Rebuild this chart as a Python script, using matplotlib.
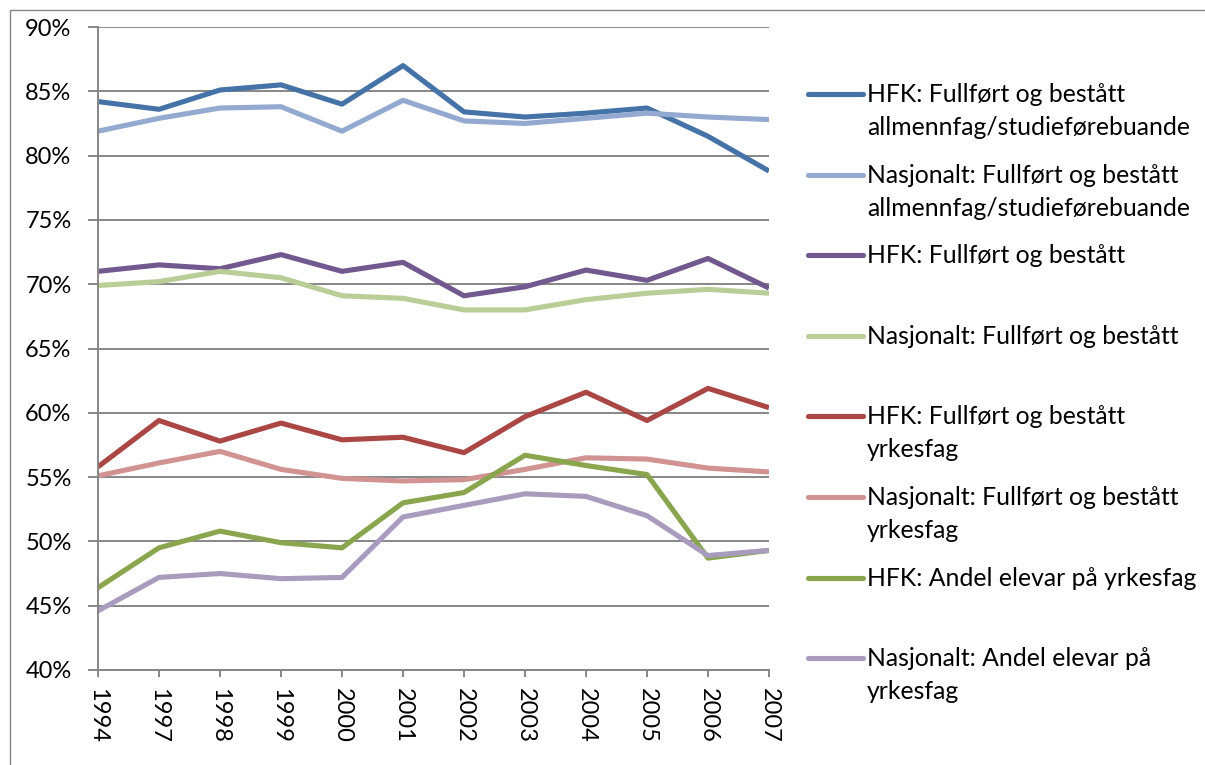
import matplotlib
matplotlib.use("Agg")
import matplotlib.pyplot as plt
from matplotlib.lines import Line2D
from matplotlib.patches import Rectangle
from matplotlib.ticker import FuncFormatter

plt.rcParams['font.family'] = ['Lato', 'DejaVu Sans']

years = ['1994', '1997', '1998', '1999', '2000', '2001', '2002', '2003', '2004', '2005', '2006', '2007']

hfk_allmenn = [84.2, 83.6, 85.1, 85.5, 84.0, 87.0, 83.4, 83.0, 83.3, 83.7, 81.5, 78.8]
nasj_allmenn = [81.9, 82.9, 83.7, 83.8, 81.9, 84.3, 82.7, 82.5, 82.9, 83.3, 83.0, 82.8]
hfk_fullfort = [71.0, 71.5, 71.2, 72.3, 71.0, 71.7, 69.1, 69.8, 71.1, 70.3, 72.0, 69.7]
nasj_fullfort = [69.9, 70.2, 71.0, 70.5, 69.1, 68.9, 68.0, 68.0, 68.8, 69.3, 69.6, 69.3]
hfk_yrkes = [55.8, 59.4, 57.8, 59.2, 57.9, 58.1, 56.9, 59.7, 61.6, 59.4, 61.9, 60.4]
nasj_yrkes = [55.1, 56.1, 57.0, 55.6, 54.9, 54.7, 54.8, 55.6, 56.5, 56.4, 55.7, 55.4]
hfk_andel = [46.4, 49.5, 50.8, 49.9, 49.5, 53.0, 53.8, 56.7, 55.9, 55.2, 48.7, 49.3]
nasj_andel = [44.6, 47.2, 47.5, 47.1, 47.2, 51.9, 52.8, 53.7, 53.5, 52.0, 48.9, 49.3]

series = [
    (hfk_allmenn, '#4572A7', ['HFK: Fullført og bestått', 'allmennfag/studieførebuande']),
    (nasj_allmenn, '#93A9CF', ['Nasjonalt: Fullført og bestått', 'allmennfag/studieførebuande']),
    (hfk_fullfort, '#71588F', ['HFK: Fullført og bestått']),
    (nasj_fullfort, '#B9CD96', ['Nasjonalt: Fullført og bestått']),
    (hfk_yrkes, '#AA4643', ['HFK: Fullført og bestått', 'yrkesfag']),
    (nasj_yrkes, '#D19392', ['Nasjonalt: Fullført og bestått', 'yrkesfag']),
    (hfk_andel, '#89A54E', ['HFK: Andel elevar på yrkesfag']),
    (nasj_andel, '#A99BBD', ['Nasjonalt: Andel elevar på', 'yrkesfag']),
]

W, H = 1205, 765
fig = plt.figure(figsize=(W / 100, H / 100), dpi=100)
ax = fig.add_axes([98 / W, 1 - 670 / H, (769 - 98) / W, (670 - 27) / H])

x = list(range(len(years)))
for vals, col, lab in series:
    ax.plot(x, vals, color=col, lw=3.7, solid_joinstyle='round', solid_capstyle='butt')

grey = '#868686'
ax.set_xlim(0, len(years) - 1)
ax.set_ylim(40, 90)
ax.set_yticks(range(40, 91, 5))
ax.yaxis.set_major_formatter(FuncFormatter(lambda v, p: f'{v:.0f}%'))
ax.set_xticks(x)
ax.set_xticklabels(years, rotation=270)
ax.grid(axis='y', color=grey, lw=1.4)
ax.set_axisbelow(True)
for s in ['top', 'right']:
    ax.spines[s].set_visible(False)
for s in ['left', 'bottom']:
    ax.spines[s].set_color(grey)
    ax.spines[s].set_linewidth(1.4)
ax.tick_params(axis='y', length=7, width=1.4, color=grey, pad=12, labelsize=17)
ax.tick_params(axis='x', length=5, width=1.4, color=grey, pad=8, labelsize=17)

# legend drawn by hand so the marker lines up with the first text line
y0, step = 94, 80.6
for i, (vals, col, lab) in enumerate(series):
    yy = y0 + i * step
    fig.add_artist(Line2D([808 / W, 863 / W], [1 - yy / H, 1 - yy / H], color=col, lw=3.7,
                          solid_capstyle='round', transform=fig.transFigure))
    for j, line in enumerate(lab):
        fig.text(867 / W, 1 - (yy + 8 + j * 33) / H, line, fontsize=17.8, va='baseline',
                 ha='left', color='black')

fig.add_artist(Rectangle((10 / W, -0.1), 1.2, 1 - 10 / H + 0.1, transform=fig.transFigure,
                         fill=False, edgecolor=grey, lw=1))

fig.savefig('out.png', dpi=100)
